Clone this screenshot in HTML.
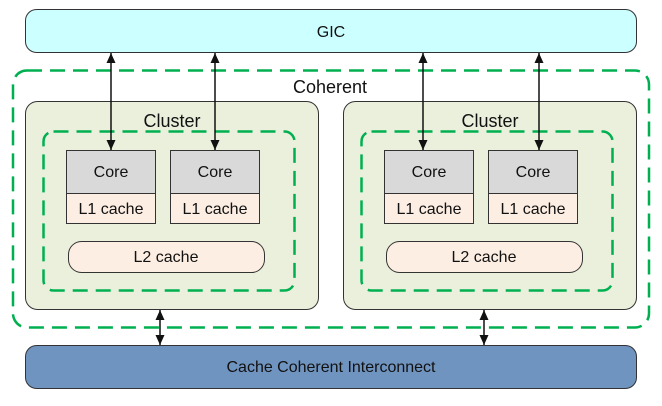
<!DOCTYPE html>
<html><head><style>
html,body{margin:0;padding:0;background:#fff;}
svg text{font-family:"Liberation Sans",Arial,sans-serif;fill:#111;}
</style></head><body>
<svg width="662" height="401" viewBox="0 0 662 401" xmlns="http://www.w3.org/2000/svg">
<defs>
<marker id="a" viewBox="0 0 10 10" refX="10" refY="5" markerWidth="10" markerHeight="10" markerUnits="userSpaceOnUse" orient="auto-start-reverse"><path d="M0,0.5 L10,5 L0,9.5 z" fill="#111"/></marker>
</defs>
<rect x="25.5" y="9.5" width="611" height="43" rx="11" fill="#ccffff" stroke="#333" stroke-width="1"/>
<text x="331" y="37" font-size="16" text-anchor="middle">GIC</text>
<rect x="13" y="70.5" width="636" height="257" rx="14" fill="none" stroke="#00b050" stroke-width="2.5" stroke-dasharray="15,8"/>
<text x="330" y="93" font-size="18" text-anchor="middle">Coherent</text>
<g id="c">
<rect x="25.5" y="101.5" width="293" height="208" rx="12" fill="#ebf0dd" stroke="#333" stroke-width="1"/>
<text x="172" y="127" font-size="18" text-anchor="middle">Cluster</text>
<rect x="43.5" y="131.5" width="251" height="159" rx="10" fill="none" stroke="#00b050" stroke-width="2.5" stroke-dasharray="15,8"/>
<rect x="66.5" y="150.5" width="89" height="43" fill="#d9d9d9" stroke="#333"/>
<rect x="66.5" y="193.5" width="89" height="30" fill="#fdeee3" stroke="#333"/>
<text x="111" y="177" font-size="16" text-anchor="middle">Core</text>
<text x="111" y="214" font-size="16" text-anchor="middle">L1 cache</text>
<rect x="170.5" y="150.5" width="89" height="43" fill="#d9d9d9" stroke="#333"/>
<rect x="170.5" y="193.5" width="89" height="30" fill="#fdeee3" stroke="#333"/>
<text x="215" y="177" font-size="16" text-anchor="middle">Core</text>
<text x="215" y="214" font-size="16" text-anchor="middle">L1 cache</text>
<rect x="68.5" y="241.5" width="196" height="31" rx="13" fill="#fdeee3" stroke="#333"/>
<text x="166" y="262" font-size="16" text-anchor="middle">L2 cache</text>
</g>
<use href="#c" transform="translate(318,0)"/>
<rect x="25.5" y="345.5" width="611" height="43" rx="11" fill="#7094c0" stroke="#333" stroke-width="1"/>
<text x="331" y="372" font-size="16" text-anchor="middle">Cache Coherent Interconnect</text>
<g stroke="#111" stroke-width="1.5" marker-start="url(#a)" marker-end="url(#a)">
<line x1="111" y1="53" x2="111" y2="150"/>
<line x1="215" y1="53" x2="215" y2="150"/>
<line x1="423" y1="53" x2="423" y2="150"/>
<line x1="539" y1="53" x2="539" y2="150"/>
<line x1="160" y1="310" x2="160" y2="345"/>
<line x1="484" y1="310" x2="484" y2="345"/>
</g>
</svg>
</body></html>
